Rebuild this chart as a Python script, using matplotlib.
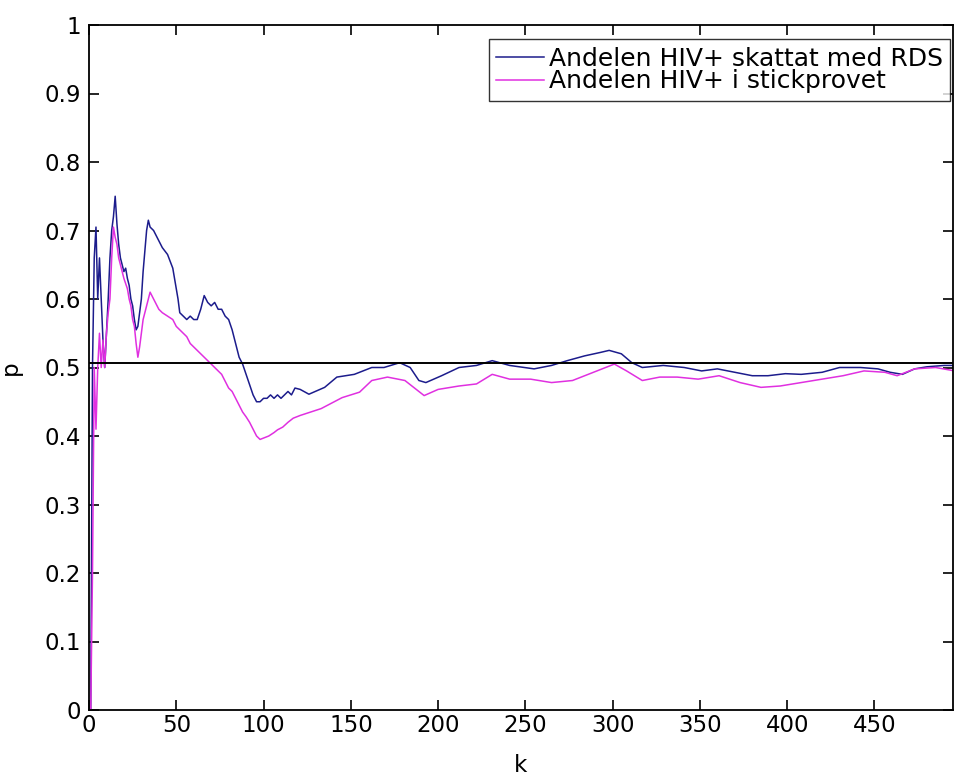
import matplotlib
matplotlib.use("Agg")
import matplotlib.pyplot as plt

plt.rcParams["font.family"] = ["DejaVu Sans"]

# ── Data ──────────────────────────────────────────────
# RDS estimate of HIV+ share, by sample size k
k_rds = [1, 2, 3, 4, 5, 6, 7, 8, 9, 10, 11, 12, 13, 14, 15, 16, 17, 18, 19, 20,
         21, 22, 23, 24, 25, 26, 27, 28, 29, 30, 31, 32, 33, 34, 35, 37, 40, 42, 45, 48,
         50, 51, 52, 54, 56, 58, 60, 62, 64, 66, 68, 70, 72, 74, 76, 78, 80, 82, 84, 86,
         88, 90, 92, 94, 96, 98, 100, 102, 104, 106, 108, 110, 112, 114, 116, 118, 121, 126, 135, 142,
         152, 162, 169, 178, 184, 189, 193, 202, 212, 222, 231, 241, 255, 265, 274, 284, 293, 298, 305, 311,
         317, 329, 341, 351, 360, 370, 380, 389, 399, 408, 420, 430, 442, 452, 459, 466, 473, 480, 490, 496]
p_rds = [0.0, 0.5, 0.66, 0.705, 0.6, 0.66, 0.6, 0.54, 0.5, 0.55, 0.6, 0.66, 0.7, 0.72, 0.75, 0.71, 0.68, 0.66, 0.65, 0.64,
         0.645, 0.63, 0.62, 0.6, 0.59, 0.57, 0.555, 0.56, 0.58, 0.6, 0.64, 0.67, 0.7, 0.715, 0.705, 0.7, 0.685, 0.675, 0.665, 0.645,
         0.615, 0.6, 0.58, 0.575, 0.57, 0.575, 0.57, 0.57, 0.585, 0.605, 0.595, 0.59, 0.595, 0.585, 0.585, 0.575, 0.57, 0.555, 0.535, 0.515,
         0.505, 0.49, 0.475, 0.46, 0.45, 0.45, 0.455, 0.455, 0.46, 0.455, 0.46, 0.455, 0.46, 0.465, 0.46, 0.47, 0.468, 0.461, 0.471, 0.486,
         0.49, 0.5, 0.5, 0.507, 0.5, 0.481, 0.478, 0.488, 0.5, 0.503, 0.51, 0.503, 0.498, 0.503, 0.51, 0.517, 0.522, 0.525, 0.52, 0.507,
         0.5, 0.503, 0.5, 0.495, 0.498, 0.493, 0.488, 0.488, 0.491, 0.49, 0.493, 0.5, 0.5, 0.498, 0.493, 0.49, 0.498, 0.501, 0.503, 0.503]

# plain sample share of HIV+
k_smp = [1, 2, 3, 4, 5, 6, 7, 8, 9, 10, 11, 12, 13, 14, 15, 16, 17, 18, 19, 20,
         22, 23, 24, 25, 26, 27, 28, 29, 30, 31, 33, 35, 36, 38, 40, 42, 45, 48, 50, 52,
         54, 56, 58, 60, 62, 64, 66, 68, 70, 72, 74, 76, 78, 80, 82, 84, 86, 88, 90, 92,
         94, 96, 98, 100, 103, 106, 108, 111, 114, 117, 121, 133, 145, 155, 162, 171, 181, 192, 200, 212,
         222, 231, 241, 253, 265, 277, 289, 301, 308, 317, 327, 337, 349, 361, 373, 385, 396, 408, 420, 432,
         444, 456, 463, 473, 485, 496]
p_smp = [0.0, 0.2, 0.5, 0.41, 0.5, 0.55, 0.5, 0.54, 0.5, 0.55, 0.58, 0.6, 0.66, 0.705, 0.69, 0.68, 0.66, 0.65, 0.64, 0.63,
         0.615, 0.6, 0.59, 0.57, 0.56, 0.535, 0.515, 0.53, 0.55, 0.57, 0.59, 0.61, 0.605, 0.595, 0.585, 0.58, 0.575, 0.57, 0.56, 0.555,
         0.55, 0.545, 0.535, 0.53, 0.525, 0.52, 0.515, 0.51, 0.505, 0.5, 0.495, 0.49, 0.48, 0.47, 0.465, 0.455, 0.445, 0.435, 0.428, 0.42,
         0.41, 0.4, 0.395, 0.397, 0.4, 0.405, 0.409, 0.413, 0.42, 0.426, 0.43, 0.44, 0.456, 0.464, 0.481, 0.486, 0.481, 0.459, 0.468, 0.473,
         0.476, 0.49, 0.483, 0.483, 0.478, 0.481, 0.493, 0.505, 0.495, 0.481, 0.486, 0.486, 0.483, 0.488, 0.478, 0.471, 0.473, 0.478, 0.483, 0.488,
         0.495, 0.493, 0.488, 0.498, 0.5, 0.495]

p_true = 0.506
x_ticks = [0, 50, 100, 150, 200, 250, 300, 350, 400, 450]
y_ticks = [0, 0.1, 0.2, 0.3, 0.4, 0.5, 0.6, 0.7, 0.8, 0.9, 1]
y_ticklabels = ["0", "0.1", "0.2", "0.3", "0.4", "0.5", "0.6", "0.7", "0.8", "0.9", "1"]

# ── Plot ───────────────────────────────────────────────
fig = plt.figure(figsize=(9.55, 7.76), dpi=100)
ax = fig.add_axes([89 / 955, 66 / 776, 864 / 955, 685 / 776])

ax.plot(k_rds, p_rds, color="#1c1c8c", lw=1.1, label="Andelen HIV+ skattat med RDS")
ax.plot(k_smp, p_smp, color="#e030e0", lw=1.1, label="Andelen HIV+ i stickprovet")
ax.axhline(p_true, color="black", lw=1.4)

ax.set_xlim(0, 495)
ax.set_ylim(0, 1)
ax.set_xticks(x_ticks)
ax.set_yticks(y_ticks)
ax.set_yticklabels(y_ticklabels)
ax.tick_params(direction="in", length=7, width=1.2, top=True, right=True,
               labelsize=16.5, pad=6)
ax.tick_params(axis="x", pad=3)
for s in ax.spines.values():
    s.set_linewidth(1.3)

ax.set_xlabel("k", fontsize=16.5, labelpad=12)
ax.set_ylabel("p", fontsize=16.5, labelpad=16)

leg = ax.legend(loc="upper right", bbox_to_anchor=(950 / 955, 1 - 39 / 776),
                bbox_transform=fig.transFigure, borderaxespad=0,
                fontsize=18, frameon=True, fancybox=False, edgecolor="black",
                handlelength=1.9, handletextpad=0.2, borderpad=0.3,
                labelspacing=-0.05)
leg.get_frame().set_linewidth(1.0)

fig.savefig("out.png", dpi=100)
